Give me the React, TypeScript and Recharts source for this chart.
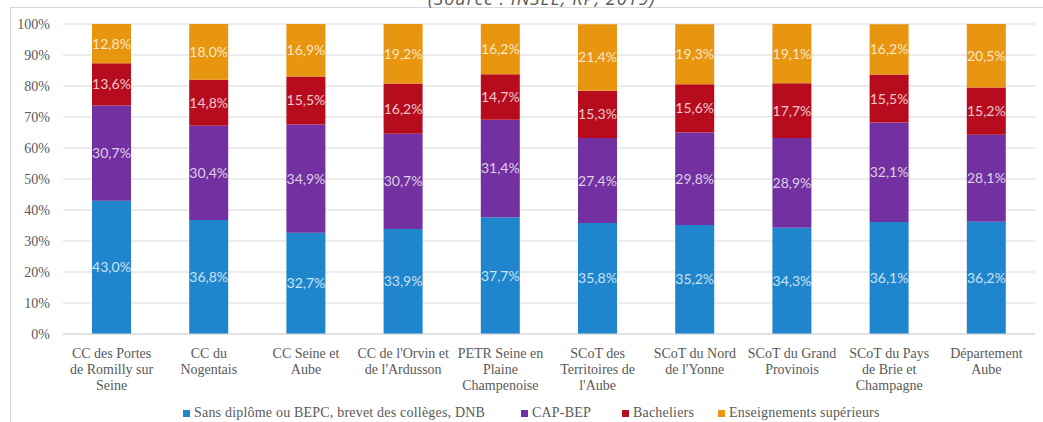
import React from "react";
import { BarChart, Bar, XAxis, YAxis, CartesianGrid, LabelList } from "recharts";

const categories = [
  "CC des Portes\nde Romilly sur\nSeine",
  "CC du\nNogentais",
  "CC Seine et\nAube",
  "CC de l'Orvin et\nde l'Ardusson",
  "PETR Seine en\nPlaine\nChampenoise",
  "SCoT des\nTerritoires de\nl'Aube",
  "SCoT du Nord\nde l'Yonne",
  "SCoT du Grand\nProvinois",
  "SCoT du Pays\nde Brie et\nChampagne",
  "Département\nAube",
];

const sansDiplome = [43.0, 36.8, 32.7, 33.9, 37.7, 35.8, 35.2, 34.3, 36.1, 36.2];
const capBep = [30.7, 30.4, 34.9, 30.7, 31.4, 27.4, 29.8, 28.9, 32.1, 28.1];
const bacheliers = [13.6, 14.8, 15.5, 16.2, 14.7, 15.3, 15.6, 17.7, 15.5, 15.2];
const superieurs = [12.8, 18.0, 16.9, 19.2, 16.2, 21.4, 19.3, 19.1, 16.2, 20.5];

const yTicks = [0, 10, 20, 30, 40, 50, 60, 70, 80, 90, 100];

const SERIES = [
  { key: "sans", name: "Sans diplôme ou BEPC, brevet des collèges, DNB", color: "#1F86CE" },
  { key: "cap", name: "CAP-BEP", color: "#7330A0" },
  { key: "bac", name: "Bacheliers", color: "#B70C1E" },
  { key: "sup", name: "Enseignements supérieurs", color: "#E8960F" },
];

const data = categories.map((c, i) => ({
  name: c,
  sans: sansDiplome[i],
  cap: capBep[i],
  bac: bacheliers[i],
  sup: superieurs[i],
}));

const SERIF = "'Liberation Serif', 'Times New Roman', serif";
const TEXT = "#595959";
const GRID = "#D9D9D9";

const fmt = (v: number) => v.toFixed(1).replace(".", ",") + "%";

function CategoryTick({ x, y, payload }: any) {
  const lines = String(payload.value).split("\n");
  return (
    <text x={x} y={y + 16} textAnchor="middle" fill={TEXT} fontFamily={SERIF} fontSize={14}>
      {lines.map((l, i) => (
        <tspan key={i} x={x} dy={i === 0 ? 0 : 16}>
          {l}
        </tspan>
      ))}
    </text>
  );
}

// légende dessinée à part, sous l'axe
function LegendRow() {
  const left = [183, 521, 622, 718];
  return (
    <>
      {SERIES.map((s, i) => (
        <div
          key={s.key}
          style={{ position: "absolute", left: left[i], top: 404, height: 18, display: "flex", alignItems: "center", fontFamily: SERIF, fontSize: 14, color: TEXT, whiteSpace: "nowrap", letterSpacing: 0.2 }}
        >
          <span style={{ width: 7, height: 7, background: s.color, display: "inline-block", marginRight: 4 }} />
          <span>{s.name}</span>
        </div>
      ))}
    </>
  );
}

export default function App() {
  return (
    <div style={{ position: "fixed", left: 0, top: 0, width: 1043, height: 422, background: "#fff", overflow: "hidden" }}>
      <div style={{ position: "absolute", left: 10, top: 7, right: 0, bottom: 0, borderLeft: `1px solid ${GRID}`, borderTop: `1px solid ${GRID}` }} />
      <div style={{ position: "absolute", left: 428, top: -14, fontFamily: "'Open Sans', sans-serif", fontStyle: "italic", fontSize: 18, letterSpacing: 1, color: TEXT, whiteSpace: "nowrap" }}>
        (Source : INSEE, RP, 2019)
      </div>
      <BarChart width={1043} height={422} data={data} margin={{ top: 24, right: 8, left: 0, bottom: 0 }}>
        <CartesianGrid stroke={GRID} vertical={false} />
        <XAxis dataKey="name" tick={<CategoryTick />} tickLine={false} axisLine={{ stroke: GRID }} interval={0} height={88} />
        <YAxis
          domain={[0, 100]}
          ticks={yTicks}
          allowDataOverflow
          tickFormatter={(v) => `${v}%`}
          tick={{ fill: TEXT, fontFamily: SERIF, fontSize: 14 }}
          tickLine={false}
          tickMargin={7}
          axisLine={false}
          width={63}
        />
        {SERIES.map((s) => (
          <Bar key={s.key} dataKey={s.key} name={s.name} stackId="a" fill={s.color} barSize={39} isAnimationActive={false}>
            <LabelList
              dataKey={s.key}
              position="center"
              formatter={(v: any) => fmt(Number(v))}
              fill="rgba(255,255,255,0.78)"
              fontFamily="Lato, sans-serif"
              fontSize={14}
            />
          </Bar>
        ))}
      </BarChart>
      <LegendRow />
    </div>
  );
}
